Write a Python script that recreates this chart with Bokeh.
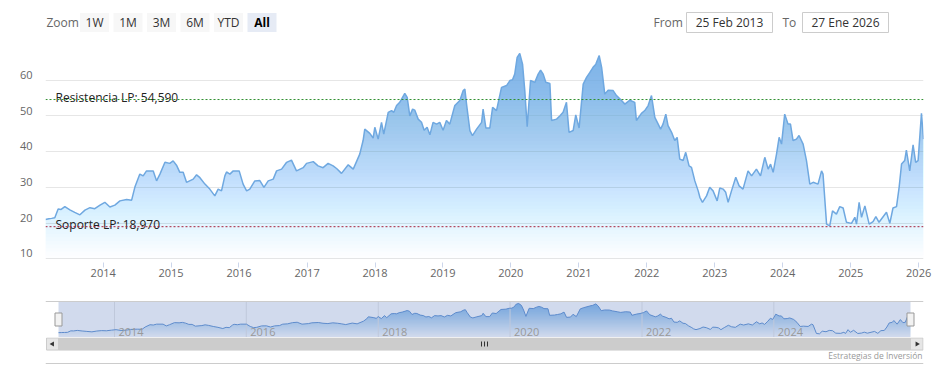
import numpy as np
import pandas as pd
from bokeh.plotting import figure
from bokeh.models import Range1d, FixedTicker, Span, DatetimeTickFormatter, LinearAxis, Grid
from bokeh.layouts import column
from bokeh.embed import file_html
from bokeh.resources import INLINE
from bokeh.core.properties import value

# ---------------- data ----------------
dates = [
    "2013-02-25", "2013-03-15", "2013-03-30", "2013-04-16", "2013-05-04", "2013-05-20", "2013-06-09",
    "2013-07-06", "2013-08-01", "2013-08-29", "2013-09-25", "2013-10-22", "2013-11-17", "2013-12-15",
    "2014-01-10", "2014-02-06", "2014-03-05", "2014-04-01", "2014-05-07", "2014-06-03", "2014-06-20",
    "2014-07-17", "2014-08-04", "2014-08-22", "2014-09-27", "2014-10-15", "2014-11-02", "2014-11-29",
    "2014-12-25", "2015-01-12", "2015-01-30", "2015-02-17", "2015-03-07", "2015-03-25", "2015-04-30",
    "2015-05-18", "2015-06-05", "2015-07-02", "2015-07-28", "2015-08-24", "2015-09-11", "2015-09-29",
    "2015-10-17", "2015-10-26", "2015-11-13", "2015-12-01", "2016-01-02", "2016-01-23", "2016-02-11",
    "2016-02-28", "2016-03-26", "2016-04-22", "2016-05-14", "2016-06-06", "2016-07-03", "2016-07-21",
    "2016-08-17", "2016-09-13", "2016-10-09", "2016-11-05", "2016-12-11", "2016-12-29", "2017-02-03",
    "2017-03-01", "2017-03-28", "2017-04-24", "2017-05-21", "2017-06-10", "2017-07-05", "2017-08-10",
    "2017-09-06", "2017-10-11", "2017-10-29", "2017-11-07", "2017-12-04", "2017-12-22", "2017-12-31",
    "2018-01-18", "2018-02-05", "2018-02-17", "2018-03-13", "2018-03-31", "2018-04-12", "2018-04-27",
    "2018-05-14", "2018-06-10", "2018-06-23", "2018-07-07", "2018-07-22", "2018-08-03", "2018-08-21",
    "2018-09-08", "2018-09-22", "2018-10-08", "2018-10-23", "2018-11-09", "2018-11-28", "2018-12-15",
    "2019-01-02", "2019-01-20", "2019-02-07", "2019-03-06", "2019-04-02", "2019-04-20", "2019-04-29",
    "2019-05-08", "2019-05-26", "2019-06-09", "2019-07-01", "2019-07-28", "2019-08-05", "2019-08-20",
    "2019-09-10", "2019-09-25", "2019-10-16", "2019-11-12", "2019-12-09", "2019-12-27", "2020-01-10",
    "2020-01-22", "2020-02-04", "2020-02-18", "2020-03-04", "2020-03-16", "2020-03-29", "2020-04-16",
    "2020-05-09", "2020-05-27", "2020-06-09", "2020-06-23", "2020-07-07", "2020-07-29", "2020-08-07",
    "2020-09-03", "2020-09-20", "2020-10-08", "2020-10-26", "2020-11-09", "2020-12-01", "2020-12-15",
    "2021-01-02", "2021-01-24", "2021-02-11", "2021-03-01", "2021-03-18", "2021-04-02", "2021-04-20",
    "2021-05-03", "2021-05-20", "2021-06-07", "2021-07-04", "2021-07-22", "2021-08-18", "2021-09-05",
    "2021-10-02", "2021-10-28", "2021-11-06", "2021-12-03", "2021-12-21", "2022-01-08", "2022-01-26",
    "2022-02-13", "2022-03-03", "2022-03-16", "2022-03-29", "2022-04-13", "2022-04-25", "2022-05-14",
    "2022-05-31", "2022-06-13", "2022-06-27", "2022-07-15", "2022-07-29", "2022-08-16", "2022-08-29",
    "2022-09-16", "2022-10-04", "2022-10-13", "2022-10-27", "2022-11-18", "2022-12-05", "2022-12-23",
    "2023-01-14", "2023-01-28", "2023-02-15", "2023-03-01", "2023-03-14", "2023-04-01", "2023-04-24",
    "2023-05-12", "2023-06-02", "2023-06-29", "2023-07-18", "2023-08-13", "2023-09-04", "2023-09-27",
    "2023-10-15", "2023-10-28", "2023-11-11", "2023-11-29", "2023-12-13", "2023-12-26", "2024-01-12",
    "2024-01-30", "2024-02-12", "2024-02-26", "2024-03-15", "2024-03-29", "2024-04-20", "2024-05-08",
    "2024-05-26", "2024-06-13", "2024-07-09", "2024-07-28", "2024-08-05", "2024-08-24", "2024-09-10",
    "2024-09-25", "2024-10-16", "2024-11-03", "2024-11-21", "2024-12-09", "2025-01-05", "2025-01-23",
    "2025-02-01", "2025-02-15", "2025-02-28", "2025-03-18", "2025-04-10", "2025-05-01", "2025-05-16",
    "2025-06-02", "2025-07-12", "2025-07-30", "2025-08-16", "2025-09-04", "2025-09-18", "2025-10-01",
    "2025-10-18", "2025-10-27", "2025-11-14", "2025-12-02", "2025-12-16", "2025-12-29", "2026-01-16",
    "2026-01-27",
]
prices = [
    21.0, 21.2, 21.3, 21.5, 23.9, 23.8, 24.6,
    23.7, 23.0, 22.3, 23.6, 24.3, 24.0, 25.0,
    25.8, 24.5, 25.0, 26.2, 26.6, 26.4, 30.0,
    33.7, 33.2, 34.6, 34.6, 31.8, 33.7, 37.0,
    36.7, 37.4, 36.2, 34.2, 34.2, 31.4, 32.3,
    33.5, 32.7, 30.9, 29.5, 27.6, 29.5, 29.0,
    33.2, 34.3, 33.7, 34.6, 34.6, 30.9, 29.0,
    29.5, 31.8, 31.9, 30.0, 31.8, 32.3, 34.6,
    35.1, 37.0, 37.6, 34.6, 35.5, 36.7, 37.2,
    36.0, 35.5, 36.7, 36.0, 35.2, 33.9, 36.3,
    35.1, 39.3, 43.1, 46.3, 45.1, 43.8, 46.8,
    43.5, 48.2, 44.9, 51.0, 51.5, 51.0, 52.9,
    53.8, 56.3, 55.2, 50.0, 51.9, 51.6, 49.1,
    48.2, 46.0, 46.8, 44.7, 48.2, 47.7, 48.2,
    46.0, 48.7, 47.7, 52.9, 54.3, 57.1, 57.5,
    53.3, 45.9, 44.5, 46.3, 48.2, 51.9, 46.6,
    46.6, 52.4, 51.5, 58.0, 58.5, 59.9, 60.1,
    61.7, 66.4, 67.5, 64.5, 57.1, 47.0, 59.9,
    59.4, 61.7, 62.8, 61.7, 59.4, 59.1, 48.7,
    49.1, 50.0, 51.0, 53.8, 45.4, 45.9, 50.3,
    46.6, 58.9, 60.8, 62.2, 63.6, 64.5, 66.9,
    63.6, 56.1, 57.2, 57.1, 55.7, 54.3, 53.3,
    54.4, 53.8, 48.7, 50.7, 51.5, 52.9, 55.7,
    49.6, 47.7, 46.3, 47.7, 50.5, 47.3, 45.4,
    43.1, 44.0, 37.9, 37.5, 39.8, 36.0, 35.6,
    31.8, 29.0, 27.2, 25.8, 27.6, 30.0, 29.0,
    26.2, 29.8, 29.5, 28.6, 25.8, 29.0, 32.8,
    30.4, 29.5, 34.6, 33.2, 35.1, 33.2, 38.4,
    35.1, 36.5, 34.2, 39.3, 44.0, 42.1, 50.5,
    47.7, 47.7, 43.1, 43.5, 44.5, 42.1, 37.5,
    30.9, 31.4, 30.9, 34.6, 33.7, 19.7, 19.2,
    23.4, 22.5, 24.6, 24.2, 20.2, 19.9, 21.6,
    19.7, 25.8, 21.6, 24.8, 19.7, 20.4, 21.8,
    20.2, 23.0, 19.9, 24.2, 24.6, 30.0, 36.5,
    37.5, 40.4, 34.6, 41.9, 37.0, 37.5, 50.7,
    43.5,
]
resistance = 54.59
support = 18.97
resistance_label = "Resistencia LP: 54,590"
support_label = "Soporte LP: 18,970"
year_ticks = list(range(2014, 2027))
y_ticks = [10, 20, 30, 40, 50, 60]
y_grid_ticks = [10, 20, 30, 40, 50, 60, 70]
nav_years = [2014, 2016, 2018, 2020, 2022, 2024]
zoom_label = "Zoom"
zoom_buttons = ["1W", "1M", "3M", "6M", "YTD", "All"]
selected_button = "All"
from_label, to_label = "From", "To"
date_from = "25 Feb 2013"
date_to = "27 Ene 2026"
credits = "Estrategias de Inversión"

# ---------------- helpers ----------------
FONT = "Open Sans"
BLUE = "#7cb5ec"
W = 938
BL, BR = 45, 15          # left / right border shared by every panel
FX0, FX1 = BL, W - BR    # frame edges in page pixels


def to_ms(vals):
    return pd.to_datetime(vals).values.astype("datetime64[ms]").astype("int64").astype(float)


x_ms = to_ms(dates)
y = np.array(prices, dtype=float)


def clip_above(xs, ys, lv):
    ox, oy = [], []
    for i in range(len(xs)):
        if i > 0:
            y0, y1 = ys[i - 1], ys[i]
            if (y0 - lv) * (y1 - lv) < 0:
                t = (lv - y0) / (y1 - y0)
                ox.append(xs[i - 1] + t * (xs[i] - xs[i - 1]))
                oy.append(lv)
        ox.append(xs[i])
        oy.append(max(ys[i], lv))
    return np.array(ox), np.array(oy)


def gradient_area(fig, ymin, step):
    top = y.max()
    levels = np.arange(ymin, top, step)
    prev = 0.0
    for lv in levels:
        a = min((lv - ymin) / (top - ymin), 0.995)
        alpha = 1 - (1 - a) / (1 - prev)
        prev = a
        if alpha <= 0:
            continue
        gx, gy = clip_above(x_ms, y, lv)
        fig.varea(x=gx, y1=lv, y2=gy, fill_color=BLUE, fill_alpha=alpha)


def ui_figure(height, y0):
    f = figure(width=W, height=height, output_backend="svg", toolbar_location=None,
               x_range=Range1d(FX0, FX1), y_range=Range1d(y0 + height, y0),
               x_axis_location=None, y_axis_location=None,
               min_border_left=BL, min_border_right=BR, min_border_top=0, min_border_bottom=0)
    f.grid.visible = False
    f.outline_line_color = None
    return f


# ---------------- toolbar (range selector) ----------------
TY = 22
tool = ui_figure(40, 0)
tool.text(x=[46], y=[TY], text=[zoom_label], text_font=value(FONT), text_font_size="12px",
          text_color="#666666", text_baseline="middle", text_align="left")
bx = [94 + 33.5 * i for i in range(len(zoom_buttons))]
bfill = ["#e6ebf5" if b == selected_button else "#f7f7f7" for b in zoom_buttons]
tool.rect(x=bx, y=TY, width=29, height=19, fill_color=bfill, line_color=None)
for xb, b in zip(bx, zoom_buttons):
    sel = b == selected_button
    tool.text(x=[xb], y=[TY], text=[b], text_font=value(FONT), text_font_size="12px",
              text_color="#000000" if sel else "#333333",
              text_font_style="bold" if sel else "normal",
              text_baseline="middle", text_align="center")
tool.text(x=[653], y=[TY], text=[from_label], text_font=value(FONT), text_font_size="12px",
          text_color="#666666", text_baseline="middle", text_align="left")
tool.text(x=[782], y=[TY], text=[to_label], text_font=value(FONT), text_font_size="12px",
          text_color="#666666", text_baseline="middle", text_align="left")
tool.rect(x=[729, 845], y=TY, width=86, height=20, fill_color="white", line_color="#cccccc")
tool.text(x=[729, 845], y=[TY, TY], text=[date_from, date_to], text_font=value(FONT),
          text_font_size="12px", text_color="#333333", text_baseline="middle", text_align="center")

# ---------------- main chart ----------------
YMIN, YMAX = 8.94, 70
LAB_SHIFT = 1.5  # y-axis labels sit just above their grid line
p = figure(width=W, height=256, x_axis_type="datetime", output_backend="svg", toolbar_location=None,
           x_range=Range1d(x_ms[0], x_ms[-1]), y_range=Range1d(YMIN, YMAX),
           y_axis_location=None,
           min_border_left=BL, min_border_right=BR, min_border_top=4, min_border_bottom=34)
p.outline_line_color = None
p.grid.visible = False
p.add_layout(Grid(dimension=1, ticker=FixedTicker(ticks=y_grid_ticks), grid_line_color="#e6e6e6"))

p.extra_y_ranges = {"labels": Range1d(YMIN - LAB_SHIFT, YMAX - LAB_SHIFT)}
yax = LinearAxis(y_range_name="labels", ticker=FixedTicker(ticks=y_ticks))
yax.axis_line_color = None
yax.major_tick_line_color = None
yax.minor_tick_line_color = None
yax.major_tick_out = 0
yax.major_tick_in = 0
yax.major_label_standoff = 13
yax.major_label_text_font = FONT
yax.major_label_text_font_size = "11px"
yax.major_label_text_color = "#666666"
p.add_layout(yax, "left")

p.xaxis.ticker = FixedTicker(ticks=list(to_ms([f"{yr}-01-01" for yr in year_ticks])))
p.xaxis.formatter = DatetimeTickFormatter(years="%Y", months="%Y", days="%Y")
p.xaxis.axis_line_color = None
p.xaxis.major_tick_line_color = "#ccd6eb"
p.xaxis.minor_tick_line_color = None
p.xaxis.major_tick_out = 5
p.xaxis.major_tick_in = 0
p.xaxis.major_label_standoff = 1
p.xaxis.major_label_text_font = FONT
p.xaxis.major_label_text_font_size = "11px"
p.xaxis.major_label_text_color = "#666666"

gradient_area(p, YMIN, 1.0)
p.line(x_ms, y, line_color="#6fa8e0", line_width=1.5)

p.add_layout(Span(location=resistance, dimension="width", line_color="#2f8f2f",
                  line_dash="2 2", line_width=1))
p.add_layout(Span(location=support, dimension="width", line_color="#a8203c",
                  line_dash="2 2", line_width=1))
p.text(x=[x_ms[0], x_ms[0]], y=[resistance, support], text=[resistance_label, support_label],
       x_offset=10, y_offset=-2, text_baseline="alphabetic", text_align="left",
       text_font=value(FONT), text_font_size="12px", text_color="#222222")

# ---------------- navigator ----------------
span_ms = x_ms[-1] - x_ms[0]
mpp = span_ms / 852.0
NY0, NY1, NTOP = 13.3, 70.7, 72.3
nav = figure(width=W, height=41, x_axis_type="datetime", output_backend="svg", toolbar_location=None,
             x_range=Range1d(x_ms[0] - 13 * mpp, x_ms[-1] + 13 * mpp), y_range=Range1d(NY0, NTOP),
             x_axis_location=None, y_axis_location=None,
             min_border_left=BL, min_border_right=BR, min_border_top=4, min_border_bottom=0)
nav.grid.visible = False
nav.outline_line_color = None
gradient_area(nav, NY0, 2.0)
nav_x = to_ms([f"{yr}-01-01" for yr in nav_years])
nav.segment(x0=nav_x, y0=NY0, x1=nav_x, y1=NY1, line_color="#e6e6e6", line_width=1)
nav.line(x_ms, y, line_color="#5b8fd0", line_width=1)
nav.quad(left=x_ms[0], right=x_ms[-1], bottom=NY0, top=NY1,
         fill_color="#6685c2", fill_alpha=0.3, line_color=None)
nav.add_layout(Span(location=NY1, dimension="width", line_color="#cccccc", line_width=1))
nav.text(x=nav_x, y=NY0, text=[str(yr) for yr in nav_years], x_offset=4, y_offset=-2,
         text_baseline="bottom", text_align="left", text_font=value(FONT),
         text_font_size="11px", text_color="#999999")
nav.rect(x=[x_ms[0], x_ms[-1]], y=(NY0 + NY1) / 2, width=7, height=13,
         width_units="screen", height_units="screen",
         fill_color="#f2f2f2", line_color="#999999", line_width=1)

# ---------------- scrollbar + credits ----------------
scr = ui_figure(44, 337)
scr.quad(left=46, right=923, top=337, bottom=350, fill_color="#f2f2f2", line_color=None)
scr.quad(left=58, right=910, top=337.5, bottom=349.5, fill_color="#cccccc", line_color="#cccccc")
scr.quad(left=[46, 910], right=[58, 922.5], top=337.5, bottom=349.5, fill_color="#e6e6e6",
         line_color="#cccccc")
scr.scatter(x=[52], y=[343.5], marker="triangle", size=5, angle=np.pi / 2,
            fill_color="#333333", line_color=None)
scr.scatter(x=[916.5], y=[343.5], marker="triangle", size=5, angle=-np.pi / 2,
            fill_color="#333333", line_color=None)
scr.segment(x0=[481, 484, 487], y0=341, x1=[481, 484, 487], y1=346, line_color="#333333", line_width=1)
scr.text(x=[922], y=[355], text=[credits], text_align="right", text_baseline="middle",
         text_font=value(FONT), text_font_size="8.5px", text_color="#999999")
scr.segment(x0=[FX0], y0=[363], x1=[FX1], y1=[363], line_color="#cccccc", line_width=1)

layout = column(tool, p, nav, scr)
open("out.html", "w").write(file_html(layout, INLINE))
